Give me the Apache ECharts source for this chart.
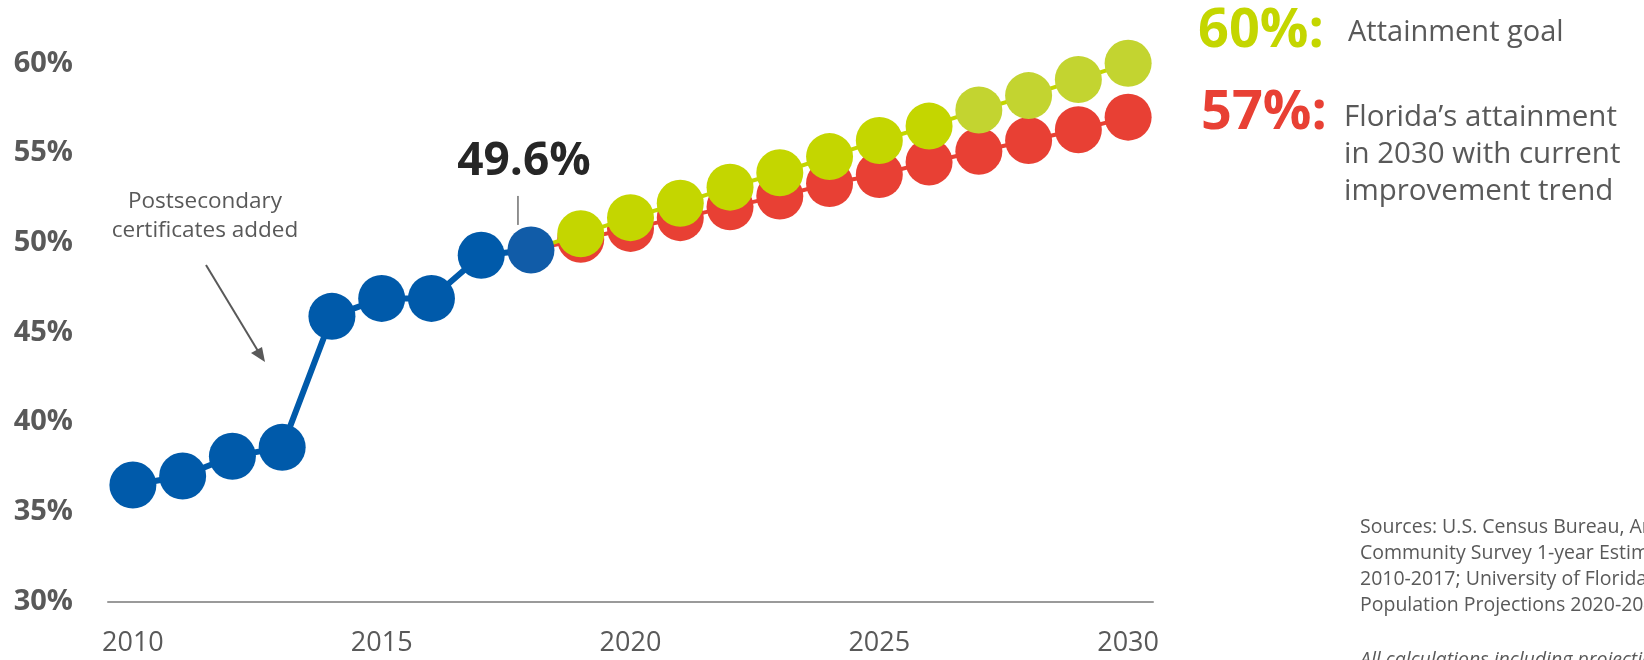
<!DOCTYPE html>
<html>
<head>
<meta charset="utf-8">
<script src="https://cdn.jsdelivr.net/npm/echarts@6/dist/echarts.min.js"></script>
<style>
html,body{margin:0;padding:0;background:#fff;}
#chart{width:1644px;height:660px;}
</style>
</head>
<body>
<div id="chart"></div>
<script>
const years = ['2010','2011','2012','2013','2014','2015','2016','2017','2018','2019','2020','2021','2022','2023','2024','2025','2026','2027','2028','2029','2030'];
const actual = [36.5, 37.0, 38.1, 38.6, 45.9, 46.9, 46.9, 49.3, 49.6];
const goal = [50.5, 51.4, 52.2, 53.1, 53.9, 54.8, 55.7, 56.5, 57.4, 58.2, 59.1, 60.0];
const trend = [50.2, 50.8, 51.4, 52.0, 52.6, 53.3, 53.8, 54.5, 55.1, 55.7, 56.3, 57.0];
const yTicks = [30, 35, 40, 45, 50, 55, 60];
const lastActualLabel = '49.6%';
const annotationNote = ['Postsecondary', 'certificates added'];
const goalLabel = ['60%:', 'Attainment goal'];
const trendLabel = ['57%:', 'Florida\u2019s attainment', 'in 2030 with current', 'improvement trend'];
const sources = ['Sources: U.S. Census Bureau, American', 'Community Survey 1-year Estimates,', '2010-2017; University of Florida BEBR', 'Population Projections 2020-2045'];
const footnote = 'All calculations including projections are by the Florida College Access Network';

const FONT = '"Open Sans", "Noto Sans", sans-serif';
const BLUE = '#005AAA', GREEN = '#C4D600', GREEN2 = '#C3D430', RED = '#E84034', GREY = '#595959';

const nA = actual.length;
const blueData = years.map((y, i) => i < nA ? {value: actual[i], itemStyle: {color: i === nA - 1 ? '#115CA8' : BLUE}} : null);
function projData(arr, light) {
  return years.map((y, i) => {
    if (i < nA - 1) return null;
    if (i === nA - 1) return {value: actual[nA - 1], symbolSize: 0};
    const k = i - nA;
    const item = {value: arr[k]};
    if (light && i >= 17) item.itemStyle = {color: GREEN2};
    return item;
  });
}

const chart = echarts.init(document.getElementById('chart'));
chart.setOption({
  animation: false,
  backgroundColor: '#fff',
  grid: {left: 108, right: 491, top: 63.3, bottom: 58.3, containLabel: false},
  xAxis: {
    type: 'category', data: years, boundaryGap: true,
    axisLine: {lineStyle: {color: '#9A9A9A', width: 2}},
    axisTick: {show: false},
    axisLabel: {interval: 4, color: GREY, fontFamily: FONT, fontSize: 27, margin: 28}
  },
  yAxis: {
    type: 'value', min: yTicks[0], max: yTicks[yTicks.length - 1], interval: 5,
    axisLine: {show: false}, axisTick: {show: false}, splitLine: {show: false},
    axisLabel: {formatter: '{value}%', color: GREY, fontFamily: FONT, fontSize: 29, fontWeight: 'bold', margin: 35}
  },
  series: [
    {type: 'line', name: 'trend', data: projData(trend, false), symbol: 'circle', symbolSize: 47, z: 2, showAllSymbol: true,
     lineStyle: {color: RED, width: 4}, itemStyle: {color: RED}, clip: false},
    {type: 'line', name: 'goal', data: projData(goal, true), symbol: 'circle', symbolSize: 47, z: 3, showAllSymbol: true,
     lineStyle: {color: GREEN, width: 4}, itemStyle: {color: GREEN}, clip: false},
    {type: 'line', name: 'actual', data: blueData, symbol: 'circle', symbolSize: 47, z: 4, showAllSymbol: true,
     lineStyle: {color: BLUE, width: 6}, itemStyle: {color: BLUE}, clip: false}
  ]
});

const p = chart.convertToPixel({xAxisIndex: 0, yAxisIndex: 0}, [nA - 1, actual[nA - 1]]);
const lx = p[0] - 13;
const g = [
  {type: 'text', style: {text: lastActualLabel, x: p[0] - 7, y: p[1] - 88, align: 'center', verticalAlign: 'middle', font: 'bold 46px ' + FONT, fill: '#262626'}},
  {type: 'line', shape: {x1: lx, y1: p[1] - 54, x2: lx, y2: p[1] - 25}, style: {stroke: '#262626', lineWidth: 1}},
  {type: 'text', style: {text: annotationNote.join('\n'), x: 205, y: 216, align: 'center', verticalAlign: 'middle', font: '22.5px ' + FONT, fill: GREY, lineHeight: 29}},
  {type: 'line', shape: {x1: 206, y1: 265, x2: 258, y2: 351}, style: {stroke: GREY, lineWidth: 2}},
  {type: 'polygon', shape: {points: [[265, 362], [251, 353], [262, 347]]}, style: {fill: GREY}},
  {type: 'text', style: {text: goalLabel[0], x: 1198, y: 32, verticalAlign: 'middle', font: 'bold 54px ' + FONT, fill: GREEN}},
  {type: 'text', style: {text: goalLabel[1], x: 1348, y: 33, verticalAlign: 'middle', font: '29px ' + FONT, fill: GREY}},
  {type: 'text', style: {text: trendLabel[0], x: 1201, y: 114, verticalAlign: 'middle', font: 'bold 54px ' + FONT, fill: RED}},
  {type: 'text', style: {text: trendLabel.slice(1).join('\n'), x: 1344, y: 154.5, verticalAlign: 'middle', font: '29.5px ' + FONT, fill: GREY, lineHeight: 37}},
  {type: 'text', style: {text: sources.join('\n'), x: 1360, y: 566.5, verticalAlign: 'middle', font: '19.5px ' + FONT, fill: GREY, lineHeight: 26}},
  {type: 'text', style: {text: footnote, x: 1360, y: 660, verticalAlign: 'middle', font: 'italic 19.5px ' + FONT, fill: GREY}}
];
chart.setOption({graphic: g});
</script>
</body>
</html>
